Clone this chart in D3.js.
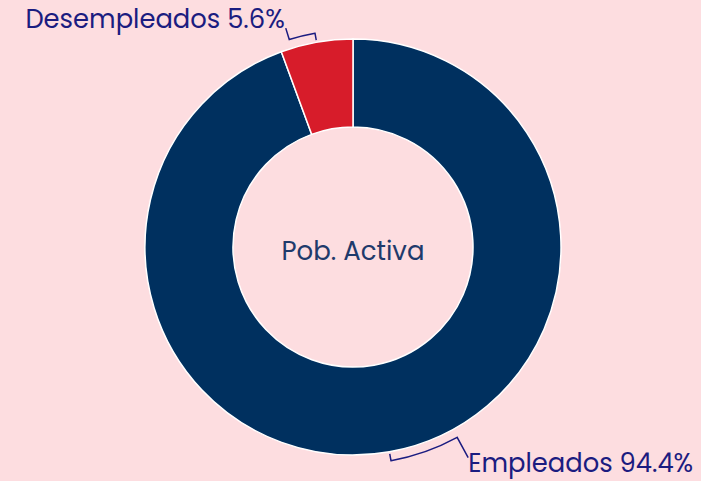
<!DOCTYPE html>
<html>
<head>
<meta charset="utf-8">
<script src="https://cdn.jsdelivr.net/npm/d3@7"></script>
<style>
  html, body { margin: 0; padding: 0; background: #fddde0; }
  svg { display: block; font-family: "Poppins", Inter, "Open Sans", sans-serif; }
</style>
</head>
<body>
<div id="chart"></div>
<script>
var categories = ["Empleados", "Desempleados"];
var values = [94.4, 5.6];
var colors = ["#00305f", "#d71c2a"];
var centerLabel = "Pob. Activa";

var width = 701, height = 481;
var cx = 353, cy = 247;
var outerR = 208, innerR = 120;

// leader layout per slice: how far the bracket runs back (deg), how far the label sits out
var bendDeg = [-18.6, -7];
var labelR = [240, 229];

var data = [];
for (var i = 0; i < categories.length; i++) {
  data.push({ name: categories[i], value: values[i], color: colors[i], bend: bendDeg[i], lr: labelR[i] });
}

var svg = d3.select("#chart").append("svg")
    .attr("width", width)
    .attr("height", height);

svg.append("rect")
    .attr("width", width)
    .attr("height", height)
    .attr("fill", "#fddde0");

var g = svg.append("g")
    .attr("transform", "translate(" + cx + "," + cy + ")");

var pie = d3.pie().sort(null).value(function(d) { return d.value; });
var arc = d3.arc().innerRadius(innerR).outerRadius(outerR);
var arcs = pie(data);

g.selectAll("path.slice")
  .data(arcs)
  .enter().append("path")
    .attr("class", "slice")
    .attr("d", arc)
    .attr("fill", function(d) { return d.data.color; })
    .attr("stroke", "#ffffff")
    .attr("stroke-width", 1.5);

g.append("text")
    .attr("x", 0)
    .attr("y", 13)
    .attr("text-anchor", "middle")
    .attr("font-size", 26)
    .attr("fill", "#1f3a6b")
    .text(centerLabel);

function polar(a, r) {
  return [Math.sin(a) * r, -Math.cos(a) * r];
}

var rb = outerR + 9;
arcs.forEach(function(d) {
  var mid = (d.startAngle + d.endAngle) / 2;
  var bend = mid + d.data.bend * Math.PI / 180;
  var p0 = polar(mid, outerR + 2);
  var path = d3.path();
  path.moveTo(p0[0], p0[1]);
  var p1 = polar(mid, rb);
  path.lineTo(p1[0], p1[1]);
  // d3 path arc uses angle from +x axis
  path.arc(0, 0, rb, mid - Math.PI / 2, bend - Math.PI / 2, true);
  var p2 = polar(bend, d.data.lr);
  path.lineTo(p2[0], p2[1]);

  g.append("path")
      .attr("d", path.toString())
      .attr("fill", "none")
      .attr("stroke", "#1b1c80")
      .attr("stroke-width", 1.5);

  var right = p2[0] > 0;
  g.append("text")
      .attr("x", right ? p2[0] : p2[0] - 1)
      .attr("y", right ? p2[1] + 14 : p2[1])
      .attr("text-anchor", right ? "start" : "end")
      .attr("font-size", 25.8)
      .attr("fill", "#1b1c80")
      .text(d.data.name + " " + d.data.value + "%");
});
</script>
</body>
</html>
